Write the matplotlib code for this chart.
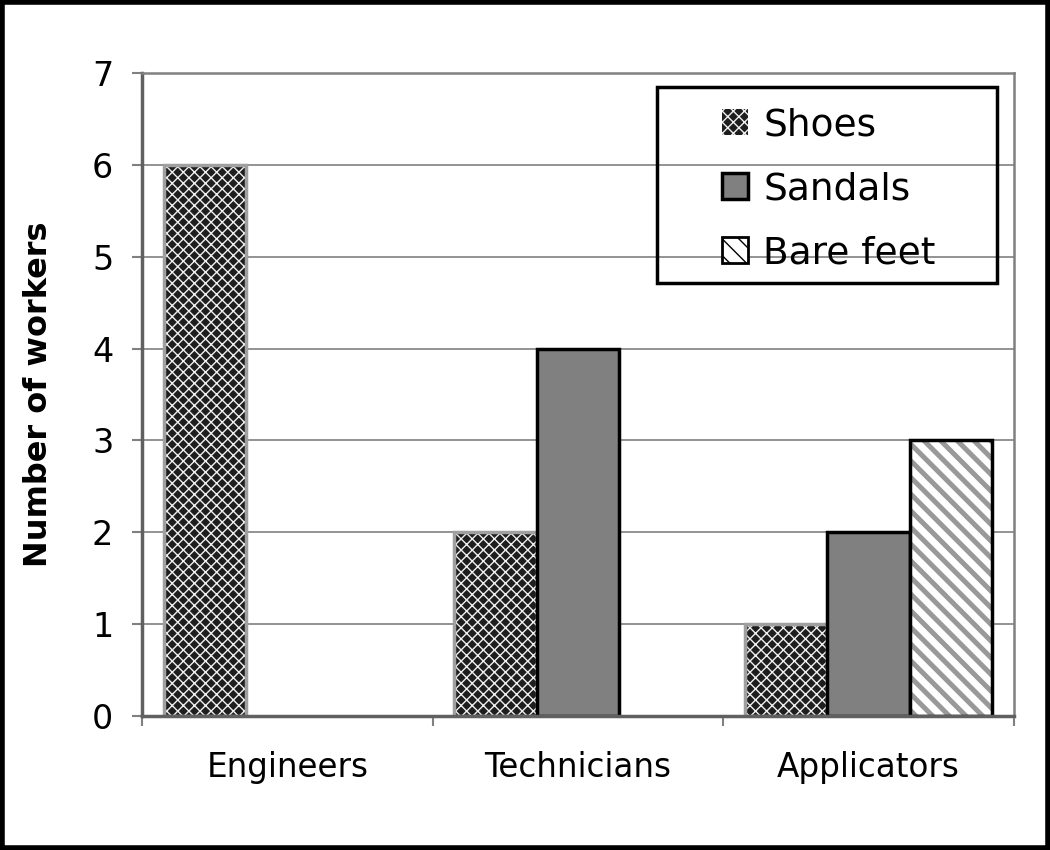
import matplotlib
matplotlib.use('Agg')
import matplotlib.pyplot as plt
from matplotlib.patches import Patch, Rectangle
import numpy as np

categories = ['Engineers', 'Technicians', 'Applicators']
shoes = [6, 2, 1]
sandals = [0, 4, 2]
bare_feet = [0, 0, 3]
series_names = ['Shoes', 'Sandals', 'Bare feet']

plt.rcParams['font.family'] = 'DejaVu Sans'

fig = plt.figure(figsize=(10.5, 8.5), dpi=100)
ax = fig.add_axes([142/1050, 1 - 716/850, (1014-142)/1050, (716-73)/850])

x = np.arange(len(categories))
w = 0.284


def hatched_bars(xs, vals, face, hcolor, hatch, hlw, outline):
    keep = [i for i, v in enumerate(vals) if v > 0]
    xs = [xs[i] for i in keep]
    vals = [vals[i] for i in keep]
    with plt.rc_context({'hatch.linewidth': hlw}):
        bars = ax.bar(xs, vals, w, color=face, edgecolor=hcolor, hatch=hatch, linewidth=0)
        for b in bars:
            if hasattr(b, 'set_hatch_linewidth'):
                b.set_hatch_linewidth(hlw)
    ax.bar(xs, vals, w, fill=False, edgecolor=outline, linewidth=2.5)


ax.set_axisbelow(True)
ax.yaxis.grid(True, color='#808080', linewidth=1.2)

# Shoes: dense checker pattern
hatched_bars(x - w, shoes, '#1e1e1e', '#f0f0f0', 'xxx', 1.0, '#a0a0a0')

# Sandals: solid grey
keep = [i for i, v in enumerate(sandals) if v > 0]
ax.bar(x[keep], [sandals[i] for i in keep], w, color='#808080', edgecolor='black', linewidth=2.5)

# Bare feet: diagonal stripes
hatched_bars(x + w, bare_feet, 'white', '#999999', '\\\\', 3.6, 'black')

ax.set_xlim(-0.5, 2.5)
ax.set_ylim(0, 7)
ax.set_yticks(range(8))
ax.set_xticks([-0.5, 0.5, 1.5, 2.5])
ax.set_xticklabels([])
ax.set_xticks(x, minor=True)
ax.set_xticklabels(categories, minor=True)
ax.tick_params(axis='x', which='major', length=7.2, width=1.5, color='#808080', direction='out')
ax.tick_params(axis='x', which='minor', length=0, pad=25, labelsize=23.5)
ax.tick_params(axis='y', length=7.2, width=1.5, color='#808080', direction='out', pad=13.5, labelsize=24)

for s in ax.spines.values():
    s.set_color('#808080')
    s.set_linewidth(1.8)
ax.spines['left'].set_linewidth(2.5)
ax.spines['bottom'].set_linewidth(2.5)
ax.spines['left'].set_color('#606060')
ax.spines['bottom'].set_color('#606060')

ax.set_ylabel('Number of workers', fontsize=23, fontweight='bold')
ax.yaxis.set_label_coords(-88/872, 0.5)

with plt.rc_context({'hatch.linewidth': 2.0}):
    handles = [
        Patch(facecolor='#1e1e1e', edgecolor='#f0f0f0', hatch='xxx', linewidth=0),
        Patch(facecolor='#808080', edgecolor='black', linewidth=2.5),
        Patch(facecolor='white', edgecolor='black', hatch='\\\\', linewidth=2),
    ]
leg = fig.legend(handles, series_names, loc='upper left', bbox_to_anchor=(722/1050, 1 - 107/850),
                 frameon=False, fontsize=27, handlelength=0.7, handleheight=0.7,
                 handletextpad=0.4, labelspacing=0.75, borderpad=0, borderaxespad=0)

# legend box
fig.patches.append(Rectangle((657/1050, 1 - 283/850), (997-657)/1050, (283-87)/850,
                             transform=fig.transFigure, fill=False, edgecolor='black',
                             linewidth=2.5, zorder=5))
# outer border
fig.patches.append(Rectangle((0.002, 0.002), 0.996, 0.996, transform=fig.transFigure,
                             fill=False, edgecolor='black', linewidth=4))

fig.savefig('out.png', dpi=100)
